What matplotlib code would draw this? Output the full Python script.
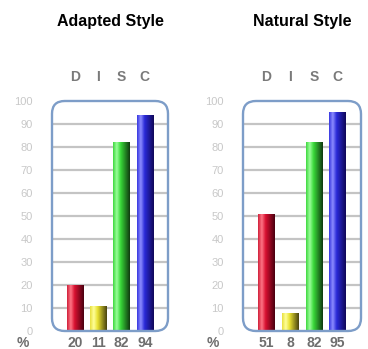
import numpy as np
import matplotlib
matplotlib.use('Agg')
import matplotlib.pyplot as plt
from matplotlib.patches import FancyBboxPatch
from matplotlib.colors import LinearSegmentedColormap
import matplotlib.transforms as mtransforms

plt.rcParams['font.family'] = ['Liberation Sans', 'DejaVu Sans']

titles = ['Adapted Style', 'Natural Style']
categories = ['D', 'I', 'S', 'C']
adapted = [20, 11, 82, 94]
natural = [51, 8, 82, 95]
yticks = list(range(0, 101, 10))

# left edge, highlight, base, dark edge
shades = {
    'D': ['#d0203a', '#ff7585', '#d81030', '#4a0010'],
    'I': ['#e8e040', '#ffff9a', '#e8e030', '#4a4410'],
    'S': ['#40d840', '#9aff9a', '#38d838', '#103a10'],
    'C': ['#3838e0', '#8c8cff', '#2a2ad8', '#100858'],
}


def draw_panel(fig, rect, title, values):
    ax = fig.add_axes(rect)
    x = np.arange(len(categories))
    ax.hlines(yticks[1:-1], -1, len(categories), color='#c4c4c4', lw=1.6, zorder=1)
    bars = ax.bar(x, values, width=0.7, color='none', zorder=2)
    for bar, cat in zip(bars, categories):
        cmap = LinearSegmentedColormap.from_list(
            cat, list(zip([0, 0.22, 0.45, 1], shades[cat])))
        grad = np.linspace(0, 1, 64).reshape(1, -1)
        x0, w, h = bar.get_x(), bar.get_width(), bar.get_height()
        im = ax.imshow(grad, cmap=cmap, aspect='auto', extent=(x0, x0 + w, 0, h),
                       zorder=2, interpolation='bilinear')
        im.set_clip_path(bar)
    ax.set_xlim(-1, len(categories))
    ax.set_ylim(0, 100)

    box = FancyBboxPatch((0, 0), 1, 1, transform=ax.transAxes,
                         boxstyle='round,pad=0,rounding_size=0.11',
                         mutation_aspect=rect[2] * 368 / (rect[3] * 349),
                         fc='none', ec='#7d9dc8', lw=1.7, zorder=5, clip_on=False)
    ax.add_patch(box)

    for s in ax.spines.values():
        s.set_visible(False)
    ax.set_xticks([])
    ax.set_yticks(yticks)
    ax.tick_params(axis='y', length=0, pad=14, labelsize=8, labelcolor='#c8c8c8')

    trans = mtransforms.blended_transform_factory(ax.transData, ax.transAxes)
    for xi, v, cat in zip(x, values, categories):
        ax.text(xi, -0.052, str(v), transform=trans, ha='center', va='center',
                fontsize=10, fontweight='bold', color='#6e6e6e')
        ax.text(xi, 1.105, cat, transform=trans, ha='center', va='center',
                fontsize=10, fontweight='bold', color='#7a7a7a')
    ax.text(-0.255, -0.052, '%', transform=ax.transAxes, ha='center', va='center',
            fontsize=10, fontweight='bold', color='#6e6e6e')
    ax.text(0.5, 1.345, title, transform=ax.transAxes, ha='center', va='center',
            fontsize=11.5, fontweight='bold', color='#000000')
    return ax


fig = plt.figure(figsize=(3.68, 3.49), dpi=100)
draw_panel(fig, [52 / 368, 18 / 349, 116 / 368, 230 / 349], titles[0], adapted)
draw_panel(fig, [243 / 368, 18 / 349, 118 / 368, 230 / 349], titles[1], natural)
fig.savefig('out.png', dpi=100)
